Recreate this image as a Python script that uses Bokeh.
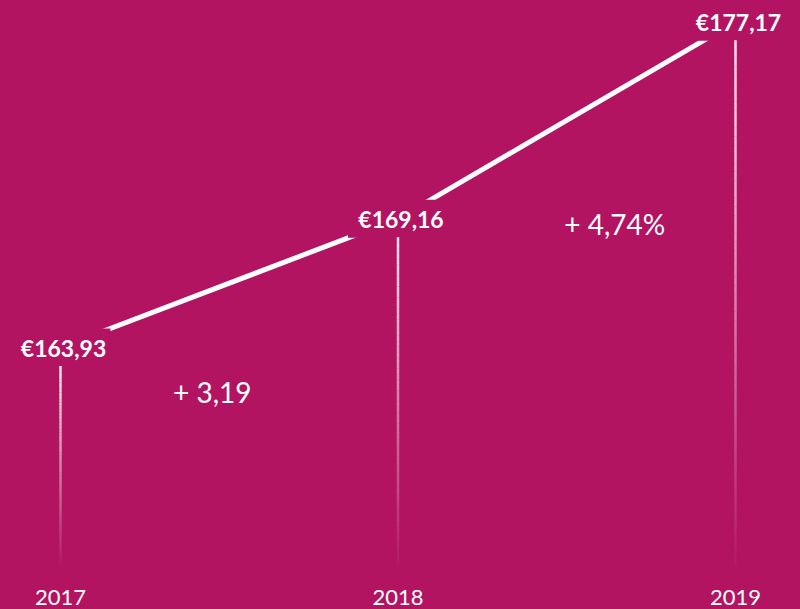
import numpy as np
from bokeh.plotting import figure
from bokeh.models import Range1d, GlobalInlineStyleSheet
from bokeh.core.properties import value
from bokeh.embed import file_html
from bokeh.resources import INLINE

# ---- data ----
years = [2017, 2018, 2019]
year_labels = ["2017", "2018", "2019"]
prices = [163.93, 169.16, 177.17]
price_labels = ["€163,93", "€169,16", "€177,17"]
change_labels = ["+ 3,19", "+ 4,74%"]

BG = "#B21462"
W, H = 800, 609
BASE = 155.07  # where the drop lines fade out

p = figure(width=W, height=H, output_backend="svg", toolbar_location=None,
           x_range=Range1d(2016.8222, 2019.1926), y_range=Range1d(153.28, 178.036),
           x_axis_location=None, y_axis_location=None,
           background_fill_color=BG, border_fill_color=BG, min_border=0,
           outline_line_color=None)
p.xgrid.grid_line_color = None
p.ygrid.grid_line_color = None
p.stylesheets = [GlobalInlineStyleSheet(
    css="html,body{margin:0;padding:0;background:#B21462;overflow:hidden;}")]

# ---- connecting line ----
p.line(years, prices, line_color="white", line_width=5)

# ---- boxes hiding the line under value labels ----
p.rect(years, prices, width=100, height=38, width_units="screen", height_units="screen",
       fill_color=BG, line_color=None)

# ---- gradient drop lines ----
N = 60
sx0, sy0, sy1, sa = [], [], [], []
alphas = np.linspace(0.9, 0.03, N)
for yr, pr in zip(years, prices):
    ys = np.linspace(pr - 0.75, BASE, N + 1)
    sx0 += [yr] * N
    sy0 += list(ys[:-1])
    sy1 += list(ys[1:])
    sa += list(alphas)
p.segment(x0=sx0, y0=sy0, x1=sx0, y1=sy1, line_color="white", line_alpha=sa, line_width=2.5)

# ---- value labels ----
p.text(years, prices, text=price_labels, x_offset=3, text_align="center", text_baseline="middle",
       text_color="white", text_font=value("Lato"), text_font_style="bold", text_font_size="23px")

# ---- change labels ----
mid_x = [(years[i] + years[i + 1]) / 2 for i in range(2)]
mid_y = [(prices[i] + prices[i + 1]) / 2 for i in range(2)]
p.text(mid_x, mid_y, text=change_labels, x_offset=[-17, 48], y_offset=[109, 104],
       text_align="center", text_baseline="middle", text_color="white",
       text_font=value("Lato"), text_font_size="28px")

# ---- year labels ----
p.text(years, [BASE] * 3, text=year_labels, y_offset=32, text_align="center",
       text_baseline="middle", text_color="white",
       text_font=value("Lato"), text_font_size="22px")

open("out.html", "w").write(file_html(p, INLINE))
